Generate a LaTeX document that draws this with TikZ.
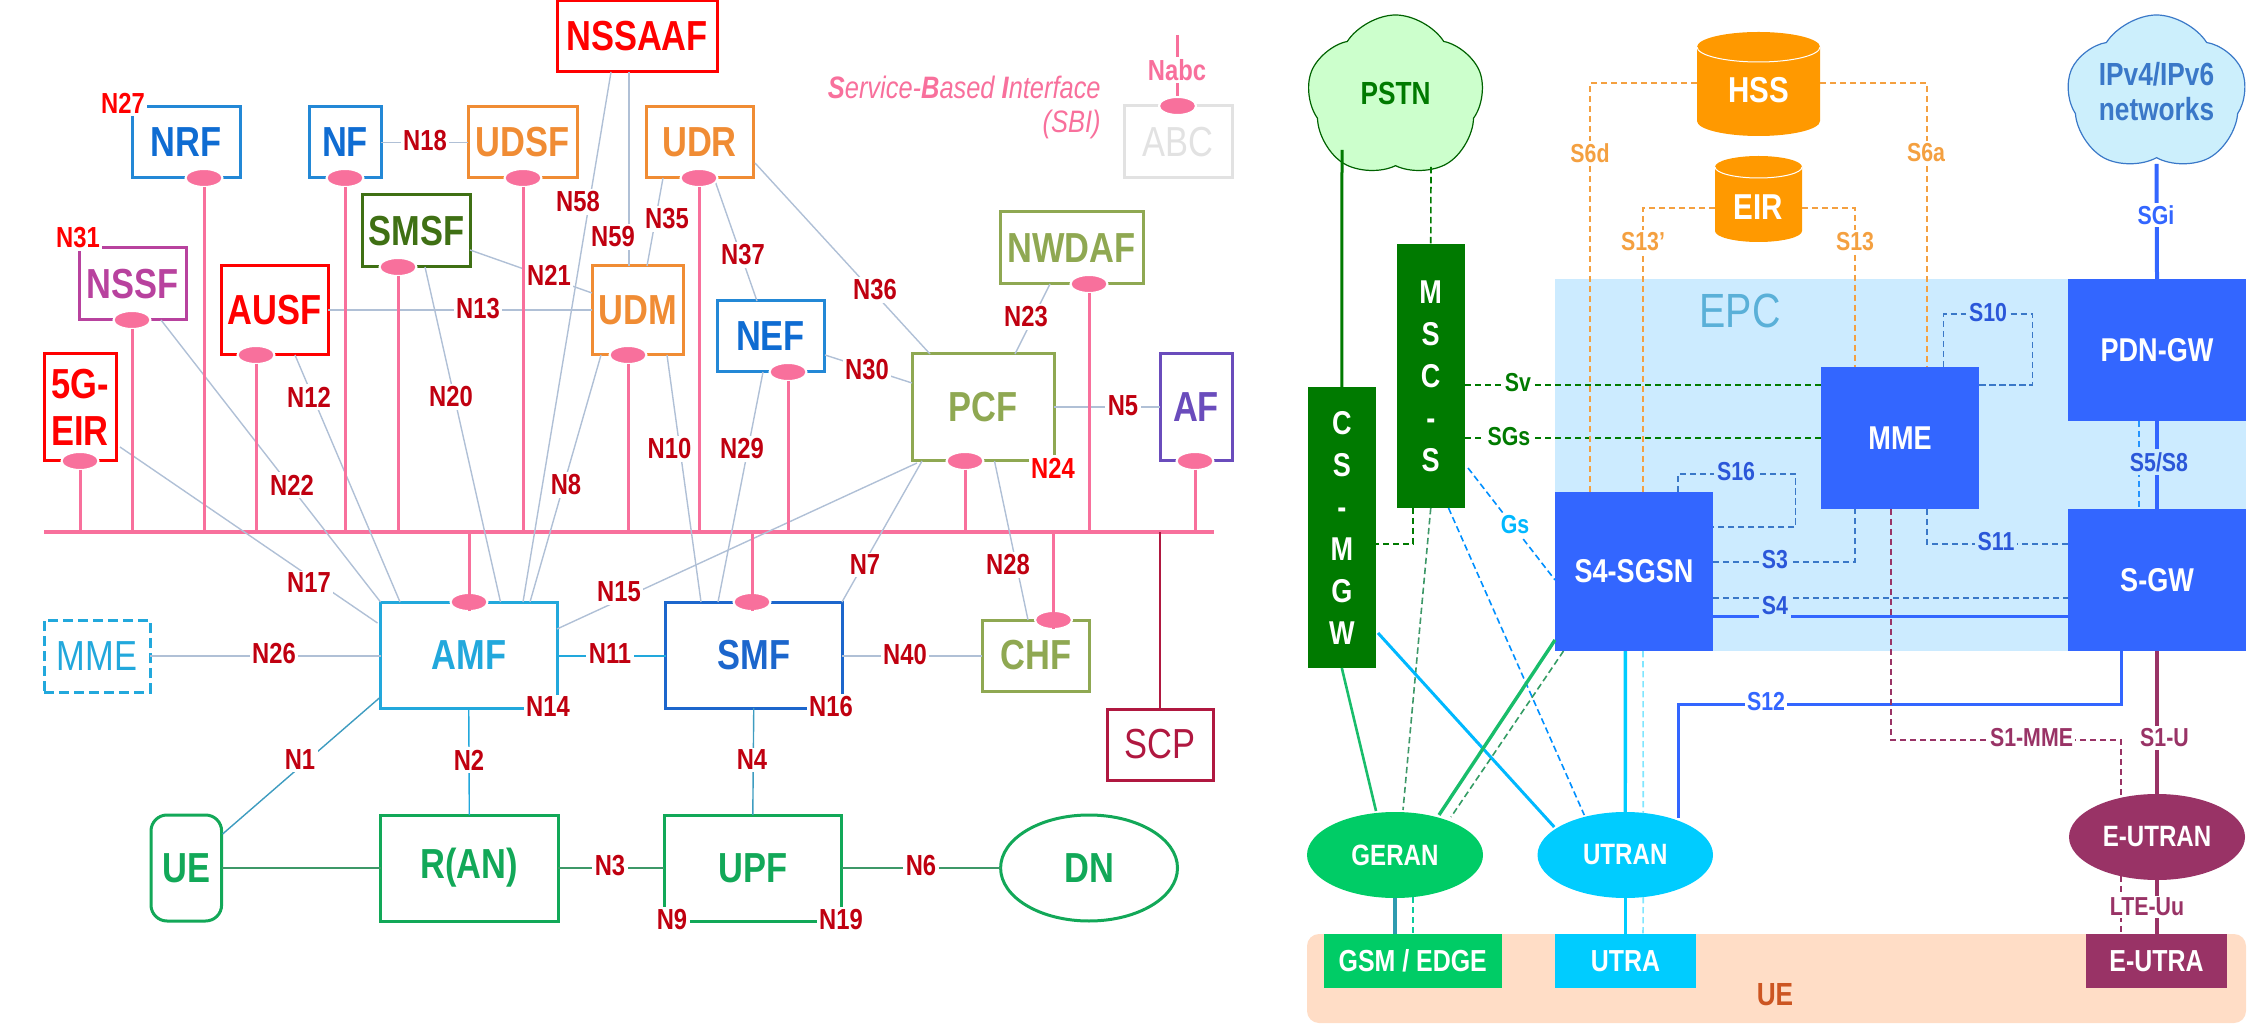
\documentclass[tikz,border=0pt]{standalone}
\usepackage{fontspec}
\setmainfont[FakeStretch=0.82]{Liberation Sans}
\usetikzlibrary{calc,shapes.geometric,shapes.symbols}
\definecolor{pk}{HTML}{F8709C}
\definecolor{thin}{HTML}{B0C0D6}
\definecolor{nred}{HTML}{C00010}
\definecolor{rd}{HTML}{FF0000}
\definecolor{bl}{HTML}{2388D6}
\definecolor{bltx}{HTML}{0F6CD2}
\definecolor{og}{HTML}{F08C34}
\definecolor{dg}{HTML}{3F7014}
\definecolor{mg}{HTML}{B8429E}
\definecolor{ol}{HTML}{8FA852}
\definecolor{vi}{HTML}{6A4CBC}
\definecolor{ak}{HTML}{22A8DC}
\definecolor{sm}{HTML}{1C66CC}
\definecolor{cr}{HTML}{B01840}
\definecolor{gn}{HTML}{12A858}
\definecolor{lg}{HTML}{E2E2E2}
\definecolor{epc}{HTML}{CCEBFF}
\definecolor{eb}{HTML}{3366FF}
\definecolor{dk}{HTML}{007A00}
\definecolor{ge}{HTML}{00CC66}
\definecolor{cy}{HTML}{00CCFF}
\definecolor{pu}{HTML}{993366}
\definecolor{orn}{HTML}{FF9900}
\definecolor{ltor}{HTML}{F4A040}
\definecolor{peach}{HTML}{FFDDC6}
\definecolor{dsb}{HTML}{3A78C8}
\definecolor{epct}{HTML}{5AB0D8}
\definecolor{gsl}{HTML}{2E9BB0}
\newcommand\fpx[1]{\fontsize{#1}{#1}\selectfont}
\newcommand\bx[7][]{\node[inner sep=0pt,outer sep=0pt,align=center,#1,minimum width={(#5-#3)*0.5pt},minimum height={(#6-#4)*0.5pt}] (#2) at ({(#3+#5)/2},{(#4+#6)/2}) {#7};}
\tikzset{
 nf/.style={draw=#1,line width=1.5pt,rectangle},
 big/.style={font=\fpx{21}\bfseries,text=#1},
 ep/.style={ellipse,fill=pk,draw=white,line width=1pt,minimum width=18.5pt,minimum height=9pt,inner sep=0pt},
 pkl/.style={draw=pk,line width=1.5pt},
 iface/.style={draw=thin,line width=.7pt},
 nl/.style={font=\fpx{14.5}\bfseries,text=nred,fill=white,inner sep=1.2pt},
 nr/.style={nl,text=rd},
 sl/.style={font=\fpx{13}\bfseries,text=#1,fill=white,inner sep=1.2pt},
 el/.style={font=\fpx{13}\bfseries,text=#1,fill=epc,inner sep=1.5pt},
 ds/.style={draw=#1,line width=.8pt,dash pattern=on 3.2pt off 1.8pt},
 wb/.style={fill=#1,text=white,font=\fpx{16.5}\bfseries},
 vt/.style={fill=dk,text=white,font=\fpx{16.5}\bfseries},
}
\begin{document}
\begin{tikzpicture}[x=0.5pt,y=-0.5pt]
\useasboundingbox (0,0) rectangle (2253,1031);
% ---------- left: 5G
\bx[nf=bl,big=bltx]{nrf}{132}{107}{240}{178}{NRF}
\bx[nf=bl,big=bltx]{nfx}{309}{107}{381}{178}{NF}
\bx[nf=og,big=og]{udsf}{468}{107}{577}{178}{UDSF}
\bx[nf=og,big=og]{udr}{646}{107}{753}{178}{UDR}
\bx[nf=dg,big=dg]{smsf}{362.5}{195}{470}{267}{SMSF}
\bx[nf=mg,big=mg]{nssf}{79}{248}{186}{320}{NSSF}
\bx[nf=rd,big=rd]{ausf}{221}{266}{328}{355}{AUSF}
\bx[nf=rd,big=rd]{eir5}{44}{354}{116}{461}{5G-\\[2.5pt]EIR}
\bx[nf=rd,big=rd]{nssaaf}{557}{1}{717}{72}{NSSAAF}
\bx[nf=og,big=og]{udm}{592}{266}{683}{355}{UDM}
\bx[nf=bl,big=bltx]{nef}{717}{301}{824}{372}{NEF}
\bx[nf=ol,big=ol]{nwdaf}{1000}{212}{1143}{284}{NWDAF}
\bx[nf=ol,big=ol]{pcf}{912}{354}{1054}{461}{PCF}
\bx[nf=vi,big=vi]{af}{1160}{354}{1232}{461}{AF}
\bx[nf=lg,font=\fpx{21},text=lg]{abc}{1124}{106}{1232}{178}{ABC}
\bx[nf=ak,big=ak]{amf}{380.5}{602}{557}{708}{AMF}
\bx[nf=sm,big=sm]{smf}{665.5}{602}{842}{708}{SMF}
\bx[draw=ak,line width=1.5pt,dash pattern=on 5pt off 2.5pt,font=\fpx{21},text=ak]{mmeg}{44}{620}{150}{692}{MME}
\bx[nf=ol,big=ol]{chf}{982}{620}{1089.5}{691}{CHF}
\bx[nf=cr,font=\fpx{21},text=cr]{scp}{1107}{709}{1213.5}{780}{SCP}
\bx[nf=gn,big=gn]{ran}{380.6}{815}{558}{921}{R(AN)}
\bx[nf=gn,big=gn]{upf}{664}{815}{841.6}{921}{UPF}
\bx[nf=gn,big=gn,rounded corners=8pt]{uee}{151}{815}{221.6}{921}{UE}
\bx[nf=gn,big=gn,ellipse]{dn}{1000.6}{815}{1177.5}{921}{DN}
\bx[fill=pk]{bus}{44}{530}{1214}{534}{}
% thin interfaces
\draw[iface] (nfx.east) -- (udsf.west);
\draw[iface] ($(ausf.north east)+(0,44)$) -- ($(udm.north west)+(0,44)$);
\draw[iface] ($(ausf.south west)+(74,0)$) -- ($(amf.north west)+(19.5,0)$);
\draw[iface] ($(smsf.south west)+(62.5,0)$) -- ($(amf.north west)+(120,0)$);
\draw[iface] ($(nssf.south west)+(82,0)$) -- (amf.north west);
\draw[iface] ($(eir5.north east)+(4,93)$) -- ($(amf.north west)+(-3,21)$);
\draw[iface] ($(smsf.north east)+(0,55)$) -- ($(udm.north west)+(0,27)$);
\draw[iface] ($(nssaaf.south west)+(54,0)$) -- ($(amf.north west)+(142.5,0)$);
\draw[iface] ($(nssaaf.south west)+(72,0)$) -- ($(udm.north west)+(37,0)$);
\draw[iface] ($(udr.south west)+(17,0)$) -- ($(udm.north west)+(55,0)$);
\draw[iface] ($(udr.south west)+(68,0)$) -- ($(nef.north west)+(40,0)$);
\draw[iface] ($(udr.north east)+(2,56)$) -- ($(pcf.north west)+(18,0)$);
\draw[iface] ($(nef.north east)+(1,54)$) -- ($(pcf.north west)+(0,29)$);
\draw[iface] ($(nwdaf.south west)+(50,0)$) -- ($(pcf.north west)+(103,0)$);
\draw[iface] ($(pcf.north east)+(0,53)$) -- ($(af.north west)+(0,53)$);
\draw[iface] ($(udm.south west)+(9,0)$) -- ($(amf.north west)+(149.5,0)$);
\draw[iface] ($(udm.south west)+(75,0)$) -- ($(smf.north west)+(35.5,0)$);
\draw[iface] ($(nef.south west)+(46,0)$) -- ($(smf.north west)+(52.5,0)$);
\draw[iface] ($(pcf.south west)+(5,2)$) -- ($(amf.north east)+(0,27)$);
\draw[iface] ($(pcf.south west)+(10,0)$) -- (smf.north east);
\draw[iface] ($(pcf.south west)+(82.5,0)$) -- ($(chf.north west)+(46,0)$);
\draw[iface] ($(mmeg.north east)+(0,36)$) -- ($(amf.north west)+(0,54)$);
\draw[iface,draw=ak] ($(amf.north east)+(0,54)$) -- ($(smf.north west)+(0,54)$);
\draw[iface] ($(smf.north east)+(0,54)$) -- ($(chf.north west)+(0,36)$);
\draw[iface,draw=ak!70!gray] ($(amf.south west)+(0,-11)$) -- ($(uee.north east)+(1,19)$);
\draw[iface,draw=ak] (amf.south) -- (ran.north);
\draw[iface,draw=ak!70!gray] (smf.south) -- (upf.north);
\draw[iface,draw=gn!60!gray] (ran.east) -- (upf.west);
\draw[iface,draw=gn!60!gray] (upf.east) -- (dn.west);
\draw[iface,draw=gn!60!gray,line width=1pt] (uee.east) -- (ran.west);
\draw[draw=cr,line width=1pt] (scp.north) -- (scp.north |- bus);
% SBI endpoints
\node[ep] (enrf) at (204,178) {};
\node[ep] (enf) at (345,178) {};
\node[ep] (eudsf) at (523,178) {};
\node[ep] (eudr) at (699,178) {};
\node[ep] (esmsf) at (398,267) {};
\node[ep] (enssf) at (132,320) {};
\node[ep] (eausf) at (256,355) {};
\node[ep] (eeir) at (80,461) {};
\node[ep] (eudm) at (628,355) {};
\node[ep] (enef) at (788,372) {};
\node[ep] (enw) at (1089,284) {};
\node[ep] (epcf) at (965,461) {};
\node[ep] (eaf) at (1195,461) {};
\node[ep] (eabc) at (1177.5,106) {};
\node[ep] (eamf) at (469,602) {};
\node[ep] (esmf) at (752,602) {};
\node[ep] (echf) at (1053.5,620) {};
\coordinate (nabctop) at (1177.5,35);
\foreach \e in {enrf,enf,eudsf,eudr,esmsf,enssf,eausf,eeir,eudm,enef,enw,epcf,eaf,eamf,esmf,echf}
  \draw[pkl] (\e) ++(0,9) -- (\e |- bus);
\draw[pkl] (nabctop) -- (eabc);
\node[ep] at (eabc) {};
% labels
\node[nl] (l18) at (425,141) {N18};
\node[nl] (l13) at (478,309) {N13};
\node[nl] (l12) at (309,397) {N12};
\node[nl] (l20) at (451,397) {N20};
\node[nl] (l22) at (292,485) {N22};
\node[nl] (l17) at (309,583) {N17};
\node[nl] (l21) at (549,275) {N21};
\node[nl] (l58) at (578,202) {N58};
\node[nl] (l59) at (613,237) {N59};
\node[nl] (l35) at (667,219) {N35};
\node[nl] (l37) at (743,255) {N37};
\node[nl] (l36) at (875,290) {N36};
\node[nl] (l30) at (867,370) {N30};
\node[nl] (l23) at (1026,317) {N23};
\node[nl] (l5) at (1123,406) {N5};
\node[nl] (l8) at (566,485) {N8};
\node[nl] (l10) at (669.5,449) {N10};
\node[nl] (l29) at (742,449) {N29};
\node[nl] (l15) at (619,592) {N15};
\node[nl] (l7) at (865,565) {N7};
\node[nl] (l28) at (1008,565) {N28};
\node[nl] (l26) at (274,654) {N26};
\node[nl] (l11) at (610,654) {N11};
\node[nl] (l40) at (905,655) {N40};
\node[nl] (l1) at (300,760) {N1};
\node[nl] (l2) at (469,760) {N2};
\node[nl] (l4) at (752,760) {N4};
\node[nl] (l3) at (610,866) {N3};
\node[nl] (l6) at (921,866) {N6};
\node[nl] (l14) at (548,707) {N14};
\node[nl] (l16) at (831,707) {N16};
\node[nl] (l9) at (672,920) {N9};
\node[nl] (l19) at (841,920) {N19};
\node[nr] (l27) at (123,103) {N27};
\node[nr] (l31) at (78,238) {N31};
\node[nr] (l24) at (1053,468) {N24};
\node[font=\fpx{14.5}\bfseries,text=pk,fill=white,inner sep=1pt] (lnabc) at (1177,70) {Nabc};
\node[font=\fpx{15.5}\itshape,text=pk,anchor=east,inner sep=0pt] (sbi1) at (1101,87) {{\bfseries S}ervice-{\bfseries B}ased {\bfseries I}nterface};
\node[font=\fpx{15.5}\itshape,text=pk,anchor=east,inner sep=0pt] (sbi2) at (1101,124) {(SBI)};
% ---------- right: EPS
\bx[fill=epc]{epcb}{1555}{279}{2246}{651}{}
\bx[fill=peach,rounded corners=6pt]{ueb}{1307}{934}{2246}{1023}{}
\node[font=\fpx{24},text=epct] (tepc) at (1740,311) {EPC};
\node[font=\fpx{16}\bfseries,text={rgb,255:red,204;green,85;blue,34}] (tue) at (1775,995) {UE};
\node[cloud,cloud puffs=5,cloud puff arc=115,aspect=1.1,cloud ignores aspect,draw=dk!80!black,fill=green!20,line width=.6pt,minimum width=88.5pt,minimum height=82pt,inner sep=0pt,font=\fpx{16}\bfseries,text=dk] (pstn) at (1395.5,97) {\raisebox{3.5pt}{PSTN}};
\node[cloud,cloud puffs=5,cloud puff arc=115,aspect=1.1,cloud ignores aspect,draw=dsb,fill=cyan!20,line width=.6pt,minimum width=89.5pt,minimum height=79pt,inner sep=0pt,align=center,font=\fpx{16}\bfseries,text=dsb] (ipn) at (2156.5,94) {\raisebox{2.75pt}{IPv4/IPv6}\\[1.5pt]\raisebox{2.75pt}{networks}};
% cylinders
\fill[orn] (1697,47) arc[start angle=180,delta angle=-180,x radius=30.75pt,y radius=7.5pt] -- (1820,121) arc[start angle=0,delta angle=-180,x radius=30.75pt,y radius=7.5pt] -- cycle;
\draw[white,line width=.5pt] (1697,47) arc[start angle=180,delta angle=180,x radius=30.75pt,y radius=7.5pt];
\fill[orn] (1715,167) arc[start angle=180,delta angle=-180,x radius=21.75pt,y radius=5.5pt] -- (1802,231) arc[start angle=0,delta angle=-180,x radius=21.75pt,y radius=5.5pt] -- cycle;
\draw[white,line width=.5pt] (1715,167) arc[start angle=180,delta angle=180,x radius=21.75pt,y radius=5.5pt];
\bx[font=\fpx{18}\bfseries,text=white]{hss}{1697}{32}{1820}{148}{HSS}
\bx[font=\fpx{18}\bfseries,text=white]{eir}{1715}{158}{1802}{256}{EIR}
% EPC blocks
\bx[wb=eb]{mme}{1821}{367}{1979}{509}{MME}
\bx[wb=eb]{pdn}{2068}{279}{2246}{421}{PDN-GW}
\bx[wb=eb]{sgw}{2068}{509}{2246}{651}{S-GW}
\bx[wb=eb]{sgsn}{1555}{492}{1713}{651}{S4-SGSN}
\bx[vt]{msc}{1396.5}{244}{1465}{508}{M\\[4.5pt]S\\[4.5pt]C\\[4.5pt]-\\[4.5pt]S}
\bx[vt]{cs}{1307.6}{387}{1376}{668}{C\\[4.5pt]S\\[4.5pt]-\\[4.5pt]M\\[4.5pt]G\\[4.5pt]W}
\bx[fill=ge,ellipse,text=white,font=\fpx{14.7}\bfseries]{geran}{1307}{812}{1483}{898}{GERAN}
\bx[fill=cy,ellipse,text=white,font=\fpx{14.7}\bfseries]{utran}{1537.5}{812}{1713}{898}{UTRAN}
\bx[fill=pu,ellipse,text=white,font=\fpx{14.7}\bfseries]{eutran}{2069}{794}{2245}{880}{E-UTRAN}
\bx[fill=ge,text=white,font=\fpx{15.2}\bfseries]{gsm}{1324}{934}{1501.5}{988}{GSM / EDGE}
\bx[fill=cy,text=white,font=\fpx{15.2}\bfseries]{utra}{1555}{934}{1696}{988}{UTRA}
\bx[fill=pu,text=white,font=\fpx{15.2}\bfseries]{eutra}{2086}{934}{2227}{988}{E-UTRA}
% connectors
\draw[dk,line width=1.5pt] ($(pstn.center)+(-53.5,53)$) -- (cs.north);
\draw[ds=dk] ($(pstn.center)+(35.5,70)$) -- (msc.north);
\draw[ds=dk] ($(msc.south west)+(16.5,0)$) |- ($(cs.north east)+(0,157)$);
\draw[ds=dk] ($(msc.north east)+(0,141)$) -- ($(mme.north west)+(0,18)$);
\draw[ds=dk] ($(msc.north east)+(0,194)$) -- ($(mme.north west)+(0,71)$);
\draw[ds=cy!70!blue] ($(msc.south east)+(3,-40)$) -- ($(sgsn.north west)+(0,88)$);
\draw[ge!80!gray,line width=1.3pt] (cs.south) -- ($(geran.center)+(-19,-44)$);
\draw[ds=gn!60!gray] (msc.south) -- ($(geran.center)+(8,-45)$);
\draw[cy!90!blue,line width=1.5pt] ($(cs.south east)+(2,-35)$) -- ($(utran.center)+(-71,-28)$);
\draw[ds=cy!70!blue] ($(msc.south east)+(-16.5,0)$) -- ($(utran.center)+(-41,-40)$);
\draw[ge!80!gray,line width=1.7pt] ($(sgsn.south west)+(0,-11)$) -- ($(geran.center)+(44,-40)$);
\draw[ds=gn!70!gray] ($(sgsn.south west)+(8.5,0)$) -- ($(geran.center)+(56,-38)$);
\draw[cy,line width=1.7pt] ($(sgsn.south west)+(70.4,0)$) -- (utran.north);
\draw[ds=cy!50!white] ($(sgsn.south west)+(88,0)$) -- ($(utran.center)+(18,-42)$);
\draw[gsl,line width=1.7pt] (geran.south) -- (geran.south |- gsm.north);
\draw[ds=gn!60!cyan] ($(geran.center)+(18,42)$) -- ($(gsm.north west)+(89,0)$);
\draw[cy,line width=1.7pt] (utran.south) -- (utran.south |- utra.north);
\draw[ds=cy!50!white] ($(utran.center)+(18,42)$) -- ($(utra.north west)+(88,0)$);
\draw[ds=ltor] ($(hss.north west)+(0,51)$) -| ($(sgsn.north west)+(35,0)$);
\draw[ds=ltor] ($(hss.north east)+(0,51)$) -| ($(mme.north west)+(106,0)$);
\draw[ds=ltor] ($(eir.north west)+(0,50)$) -| ($(sgsn.north west)+(88,0)$);
\draw[ds=ltor] ($(eir.north east)+(0,50)$) -| ($(mme.north west)+(34,0)$);
\draw[ds=dsb] ($(mme.north west)+(122.5,0)$) -- ++(0,-53) -- ++(89,0) -- ++(0,71) -- ($(mme.north east)+(0,18)$);
\draw[ds=dsb] ($(sgsn.north west)+(123,0)$) -- ++(0,-18) -- ++(117.5,0) -- ++(0,53) -- ($(sgsn.north east)+(0,35)$);
\draw[ds=dsb] ($(sgsn.north east)+(0,70)$) -| ($(mme.south west)+(34,0)$);
\draw[ds=dsb] ($(mme.south west)+(106,0)$) |- ($(sgw.north west)+(0,35)$);
\draw[ds=dsb] ($(sgsn.north east)+(0,106)$) -- ($(sgw.north west)+(0,89)$);
\draw[eb,line width=1.5pt] ($(sgsn.north east)+(0,124)$) -- ($(sgw.north west)+(0,107)$);
\draw[eb,line width=1.5pt] ($(sgw.south west)+(53,0)$) -- ++(0,53) -| ($(utran.center)+(53,-37)$);
\draw[ds=pu] ($(mme.south west)+(70,0)$) -- ++(0,231) -| ($(eutran.center)+(-36,-38)$);
\draw[pu,line width=2pt] (sgw.south) -- (eutran.north);
\draw[ds=pu] ($(eutran.center)+(-36,39)$) -- ($(eutra.north west)+(35,0)$);
\draw[pu,line width=2pt] (eutran.south) -- (eutran.south |- eutra.north);
\draw[eb,line width=2pt] ($(ipn.center)+(0,70)$) -- (pdn.north);
\draw[eb,line width=2pt] (pdn.south) -- (sgw.north);
\draw[ds=eb!70!cyan] ($(pdn.south)+(-18,0)$) -- ($(sgw.north)+(-18,0)$);
% right labels
\node[sl=dk] (lsv) at (1518,383) {Sv};
\node[sl=dk] (lsgs) at (1509,437) {SGs};
\node[sl=cy!90!blue] (lgs) at (1515,525) {Gs};
\node[sl=ltor] (ls6d) at (1590,153) {S6d};
\node[sl=ltor] (ls6a) at (1926,153) {S6a};
\node[sl=ltor] (ls13p) at (1643,242) {S13'};
\node[sl=ltor] (ls13) at (1855,242) {S13};
\node[sl=eb] (lsgi) at (2156,215) {SGi};
\node[el=eb!85!black] (ls10) at (1988,313) {S10};
\node[el=eb!85!black] (ls16) at (1736,472) {S16};
\node[el=eb!85!black] (ls3) at (1775,560) {S3};
\node[el=eb!85!black] (ls11) at (1996,542) {S11};
\node[el=eb!85!black] (ls4) at (1775,606) {S4};
\node[el=eb!85!black] (ls58) at (2159,462) {S5/S8};
\node[sl=eb] (ls12) at (1766,702) {S12};
\node[sl=pu] (ls1m) at (2031.5,738) {S1-MME};
\node[sl=pu] (ls1u) at (2164.5,738) {S1-U};
\node[sl=pu] (llte) at (2147,907) {LTE-Uu};
\end{tikzpicture}
\end{document}
